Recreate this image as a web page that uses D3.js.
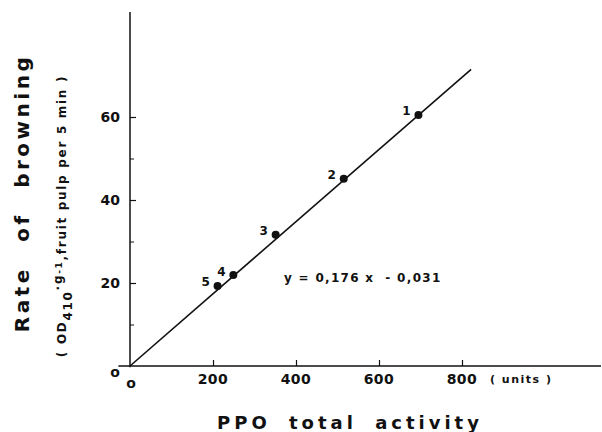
<!DOCTYPE html>
<html>
<head>
<meta charset="utf-8">
<script src="https://cdn.jsdelivr.net/npm/d3@7"></script>
<style>
  body { margin: 0; background: #fff; }
  text { font-family: "DejaVu Sans", sans-serif; font-weight: bold; fill: #111; }
</style>
</head>
<body>
<div id="chart"></div>
<script>
// data
var samples = ['1', '2', '3', '4', '5'];
var ppoActivity = [695, 515, 351, 249, 211];
var browningRate = [60.5, 45.1, 31.6, 21.9, 19.3];

var lineX = [0, 822];
var lineY = [0, 71.5];

var xTicks = [200, 400, 600, 800];
var yTicks = [20, 40, 60];
var yMinor = [10, 30, 50];

var svgWidth = 602;
var svgHeight = 432;

var svg = d3.select('#chart')
    .append('svg')
    .attr('width', svgWidth)
    .attr('height', svgHeight);

// scales
var x = d3.scaleLinear().domain([0, 800]).range([130, 462]);
var y = d3.scaleLinear().domain([0, 60]).range([366, 117]);

// axis lines
svg.append('line')
    .attr('x1', x(-28)).attr('x2', x(1135))
    .attr('y1', y(0)).attr('y2', y(0))
    .attr('stroke', '#111').attr('stroke-width', 1.5);

svg.append('line')
    .attr('x1', x(0)).attr('x2', x(0))
    .attr('y1', y(85.3)).attr('y2', y(-0.3))
    .attr('stroke', '#111').attr('stroke-width', 1.5);

// x axis ticks, pointing up
var xAxis = d3.axisTop(x).tickValues(xTicks).tickSize(6).tickFormat('');
var gx = svg.append('g')
    .attr('transform', `translate(0, ${y(0)})`)
    .call(xAxis);
gx.select('.domain').remove();
gx.selectAll('line').attr('stroke', '#111').attr('stroke-width', 1.2);

svg.selectAll('.xlab')
    .data(xTicks)
    .enter()
    .append('text')
    .attr('class', 'xlab')
    .attr('x', d => x(d))
    .attr('y', 384)
    .attr('text-anchor', 'middle')
    .style('font-size', '14px')
    .style('letter-spacing', '0.5px')
    .text(d => d);

// y axis ticks, pointing right
var yAxis = d3.axisRight(y).tickValues(yTicks).tickSize(6).tickFormat('');
var gy = svg.append('g')
    .attr('transform', `translate(${x(0)}, 0)`)
    .call(yAxis);
gy.select('.domain').remove();
gy.selectAll('line').attr('stroke', '#111').attr('stroke-width', 1.2);

var yAxisMinor = d3.axisRight(y).tickValues(yMinor).tickSize(4).tickFormat('');
var gym = svg.append('g')
    .attr('transform', `translate(${x(0)}, 0)`)
    .call(yAxisMinor);
gym.select('.domain').remove();
gym.selectAll('line').attr('stroke', '#111').attr('stroke-width', 1);

svg.selectAll('.ylab')
    .data(yTicks)
    .enter()
    .append('text')
    .attr('class', 'ylab')
    .attr('x', 120)
    .attr('y', d => y(d) + 5)
    .attr('text-anchor', 'end')
    .style('font-size', '14px')
    .text(d => d);

// the two little zeros at the origin
svg.append('text')
    .attr('x', 115).attr('y', 377)
    .attr('text-anchor', 'middle')
    .style('font-size', '14px')
    .text('o');
svg.append('text')
    .attr('x', 131).attr('y', 388)
    .attr('text-anchor', 'middle')
    .style('font-size', '14px')
    .text('o');

// units label
svg.append('text')
    .attr('x', 490).attr('y', 383)
    .style('font-size', '11px')
    .style('letter-spacing', '1.5px')
    .attr('xml:space', 'preserve')
    .text('( units )');

// regression line
svg.append('line')
    .attr('x1', x(lineX[0])).attr('y1', y(lineY[0]))
    .attr('x2', x(lineX[1])).attr('y2', y(lineY[1]))
    .attr('stroke', '#111').attr('stroke-width', 1.6);

// points
svg.selectAll('circle')
    .data(samples)
    .enter()
    .append('circle')
    .attr('cx', (d, i) => x(ppoActivity[i]))
    .attr('cy', (d, i) => y(browningRate[i]))
    .attr('r', 4)
    .attr('fill', '#111');

svg.selectAll('.plab')
    .data(samples)
    .enter()
    .append('text')
    .attr('class', 'plab')
    .attr('x', (d, i) => x(ppoActivity[i]) - 12)
    .attr('y', (d, i) => y(browningRate[i]) - 3.5)
    .attr('text-anchor', 'middle')
    .attr('dominant-baseline', 'central')
    .style('font-size', '12px')
    .text(d => d);

// equation
svg.append('text')
    .attr('x', 284).attr('y', 282)
    .style('font-size', '12px')
    .style('letter-spacing', '1.3px')
    .attr('xml:space', 'preserve')
    .text('y = 0,176 x  - 0,031');

// axis titles
svg.append('text')
    .attr('transform', 'translate(29, 193) rotate(-90)')
    .attr('text-anchor', 'middle')
    .style('font-size', '20px')
    .style('letter-spacing', '3.5px')
    .style('word-spacing', '14px')
    .text('Rate of browning');

var sub = svg.append('text')
    .attr('transform', 'translate(66, 216) rotate(-90)')
    .attr('text-anchor', 'middle')
    .style('font-size', '12px')
    .style('letter-spacing', '1.7px');
sub.append('tspan').text('( OD');
sub.append('tspan').attr('dy', 6).text('410');
sub.append('tspan').attr('dy', -10).text('·g');
sub.append('tspan').style('font-size', '9px').text('-1');
sub.append('tspan').attr('dy', 4).text(',fruit pulp per 5 min )');

svg.append('text')
    .attr('x', 350).attr('y', 429)
    .attr('text-anchor', 'middle')
    .style('font-size', '18px')
    .style('letter-spacing', '4px')
    .style('word-spacing', '8px')
    .text('PPO total activity');
</script>
</body>
</html>
